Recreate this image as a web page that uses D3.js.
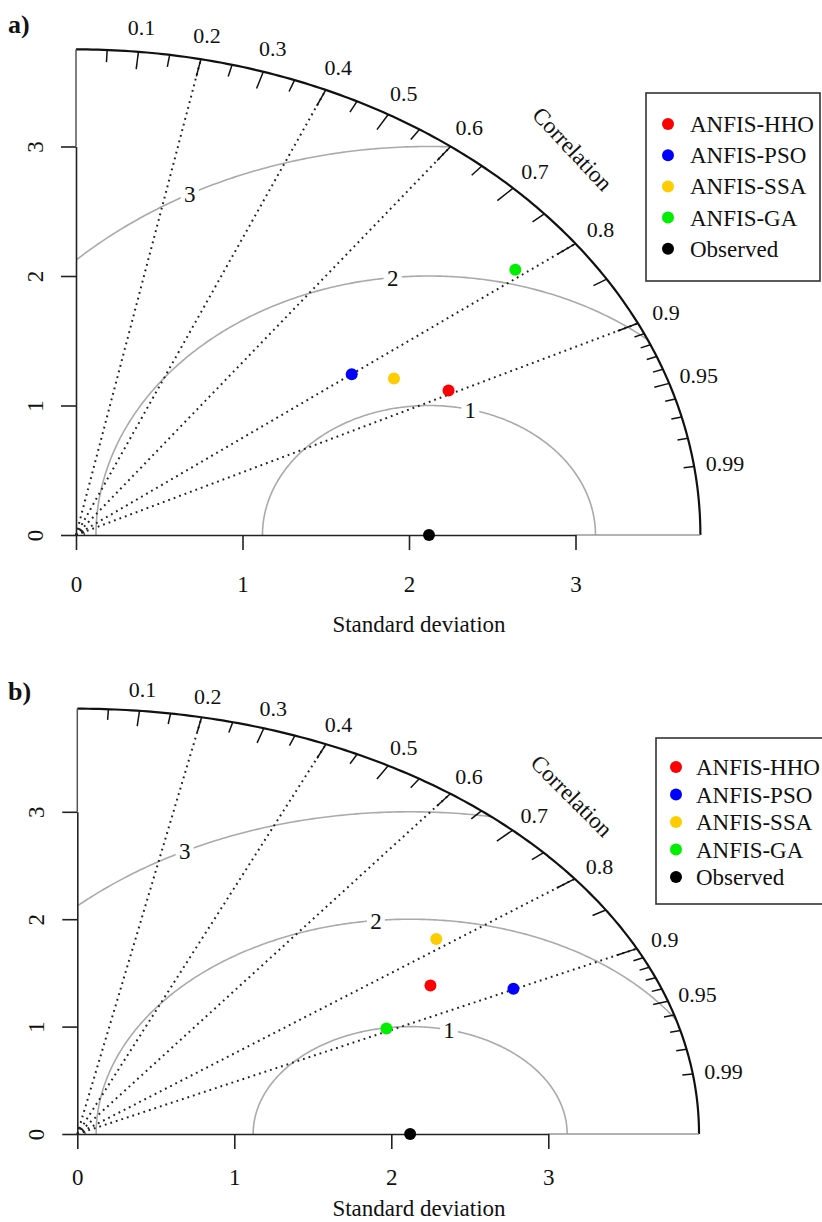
<!DOCTYPE html>
<html>
<head>
<meta charset="utf-8">
<script src="https://cdn.jsdelivr.net/npm/d3@7"></script>
<style>
body { margin: 0; background: #fff; }
svg text { font-family: "Liberation Serif", "Times New Roman", serif; fill: #111; }
</style>
</head>
<body>
<svg id="chart" width="822" height="1222"></svg>
<script>
// model names and colours
var models = ["ANFIS-HHO", "ANFIS-PSO", "ANFIS-SSA", "ANFIS-GA"];
var modelColors = ["#ff0000", "#0000ff", "#ffcc00", "#00ee00"];

// panel a) standard deviation and correlation of each model
var sdA  = [2.50, 2.07, 2.26, 3.34];
var corA = [0.895, 0.80, 0.845, 0.79];
var obsA = 2.12;
var maxSdA = 3.75;

// panel b)
var sdB  = [2.64, 3.09, 2.92, 2.20];
var corB = [0.852, 0.899, 0.783, 0.895];
var obsB = 2.12;
var maxSdB = 3.96;

var sdTicks = [0, 1, 2, 3];
var corLabels = [0.1, 0.2, 0.3, 0.4, 0.5, 0.6, 0.7, 0.8, 0.9, 0.95, 0.99];
var corLines = [0.2, 0.4, 0.6, 0.8, 0.9];
var rmsLevels = [1, 2, 3];
var rmsLabelAngles = [1.32, 1.68, 2.07];

var svg = d3.select("#chart");

function drawTaylor(opt) {
	var g = svg.append("g");
	var maxSd = opt.maxSd;

	var x = d3.scaleLinear().domain([0, 3]).range([opt.x0, opt.x3]);
	var y = d3.scaleLinear().domain([0, 3]).range([opt.y0, opt.y3]);
	var line = d3.line().x(function(d){ return x(d[0]); }).y(function(d){ return y(d[1]); });

	function polar(r, a) { return [r * Math.cos(a), r * Math.sin(a)]; }
	var quarter = d3.range(0, 181).map(function(i){ return polar(maxSd, i / 180 * Math.PI / 2); });

	// clip region = quarter circle
	g.append("clipPath").attr("id", opt.id + "clip")
		.append("path")
		.attr("d", line([[0, 0]].concat(quarter)) + "Z");

	// rms circles round the observed point
	var rms = g.append("g").attr("clip-path", "url(#" + opt.id + "clip)");
	rmsLevels.forEach(function(r){
		var pts = d3.range(0, 361).map(function(i){
			var a = i / 360 * Math.PI;
			return [opt.obs + r * Math.cos(a), r * Math.sin(a)];
		});
		rms.append("path").attr("d", line(pts))
			.attr("fill", "none").attr("stroke", "#aaa").attr("stroke-width", 1.6);
	});
	rmsLevels.forEach(function(r, i){
		var a = rmsLabelAngles[i];
		var px = x(opt.obs + r * Math.cos(a)), py = y(r * Math.sin(a));
		g.append("rect").attr("x", px - 9).attr("y", py - 11).attr("width", 18).attr("height", 22).attr("fill", "#fff");
		g.append("text").attr("x", px).attr("y", py).attr("dy", "0.35em")
			.attr("text-anchor", "middle").style("font-size", "23px").text(r);
	});

	// dotted correlation rays
	corLines.forEach(function(c){
		var p = polar(maxSd, Math.acos(c));
		g.append("line")
			.attr("x1", x(0)).attr("y1", y(0)).attr("x2", x(p[0])).attr("y2", y(p[1]))
			.attr("stroke", "#222").attr("stroke-width", 2).attr("stroke-dasharray", "1.8,4");
	});

	// small arc at origin
	var small = d3.range(0, 31).map(function(i){ return polar(0.05, i / 30 * Math.PI / 2); });
	g.append("path").attr("d", line(small)).attr("fill", "none").attr("stroke", "#222").attr("stroke-width", 1.2);

	// outer arc
	g.append("path").attr("d", line(quarter)).attr("fill", "none").attr("stroke", "#111").attr("stroke-width", 2.2);

	// correlation ticks
	var ticks = [];
	d3.range(1, 19).forEach(function(i){ ticks.push([i * 0.05, i % 2 == 0 ? 0.036 : 0.025]); });
	d3.range(1, 10).forEach(function(i){ ticks.push([0.9 + i * 0.01, i == 5 ? 0.025 : 0.017]); });
	ticks.forEach(function(t){
		var a = Math.acos(t[0]);
		var p1 = polar(maxSd, a), p2 = polar(maxSd * (1 - t[1]), a);
		g.append("line")
			.attr("x1", x(p1[0])).attr("y1", y(p1[1])).attr("x2", x(p2[0])).attr("y2", y(p2[1]))
			.attr("stroke", "#111").attr("stroke-width", 1.5);
	});
	corLabels.forEach(function(c){
		var p = polar(maxSd * 1.05, Math.acos(c));
		g.append("text").attr("x", x(p[0])).attr("y", y(p[1])).attr("dy", "0.35em")
			.attr("text-anchor", "middle").style("font-size", "22px").text(c);
	});
	var cp = polar(maxSd * 1.125, Math.PI / 4);
	g.append("text")
		.attr("transform", "translate(" + x(cp[0]) + "," + y(cp[1]) + ") rotate(" + opt.corRot + ")")
		.attr("dy", "0.35em").attr("text-anchor", "middle").style("font-size", "23px").text("Correlation");

	// axes
	g.append("line").attr("x1", x(3)).attr("y1", y(0)).attr("x2", x(maxSd)).attr("y2", y(0))
		.attr("stroke", "#999").attr("stroke-width", 1.5);
	g.append("line").attr("x1", x(0)).attr("y1", y(3)).attr("x2", x(0)).attr("y2", y(maxSd))
		.attr("stroke", "#555").attr("stroke-width", 1.5);

	var xAxis = g.append("g").attr("transform", "translate(0," + y(0) + ")")
		.call(d3.axisBottom(x).tickValues(sdTicks).tickFormat(d3.format("d")).tickSize(15).tickSizeOuter(0));
	xAxis.selectAll("text").attr("y", opt.xLabOff).attr("dy", 0).style("font-size", "23px")
		.style("font-family", "'Liberation Serif', serif").attr("fill", "#111");
	var yAxis = g.append("g").attr("transform", "translate(" + x(0) + ",0)")
		.call(d3.axisLeft(y).tickValues(sdTicks).tickFormat(d3.format("d")).tickSize(15).tickSizeOuter(0));
	yAxis.selectAll("text").attr("x", 0).attr("y", -33).attr("dy", 0)
		.attr("text-anchor", "middle").attr("transform", "rotate(-90)")
		.style("font-size", "23px").style("font-family", "'Liberation Serif', serif").attr("fill", "#111");
	g.selectAll(".domain, .tick line").attr("stroke", "#222").attr("stroke-width", 1.6);

	g.append("text").attr("x", 419).attr("y", opt.titleY).attr("text-anchor", "middle")
		.style("font-size", "23px").text("Standard deviation");

	// observed and model points
	g.append("circle").attr("cx", x(opt.obs)).attr("cy", y(0)).attr("r", 6).attr("fill", "#000");
	g.selectAll("circle.model").data(models).enter().append("circle")
		.attr("class", "model")
		.attr("cx", function(d, i){ return x(opt.sd[i] * opt.cor[i]); })
		.attr("cy", function(d, i){ return y(opt.sd[i] * Math.sin(Math.acos(opt.cor[i]))); })
		.attr("r", 6)
		.attr("fill", function(d, i){ return modelColors[i]; });

	// legend
	var lg = g.append("g").attr("transform", "translate(" + opt.legX + "," + opt.legY + ")");
	lg.append("rect").attr("x", 0).attr("y", 0).attr("width", opt.legW).attr("height", opt.legH)
		.attr("fill", "#fff").attr("stroke", "#333").attr("stroke-width", 1.6);
	var names = models.concat(["Observed"]);
	var cols = modelColors.concat(["#000"]);
	names.forEach(function(n, i){
		var cy = opt.legFirst + i * opt.legStep;
		lg.append("circle").attr("cx", opt.legDot).attr("cy", cy).attr("r", 6).attr("fill", cols[i]);
		lg.append("text").attr("x", opt.legText).attr("y", cy + 8).style("font-size", "23px").text(n);
	});

	svg.append("text").attr("x", 8).attr("y", opt.tagY).style("font-size", "26px")
		.style("font-weight", "bold").text(opt.tag);
}

drawTaylor({ id: "a", tag: "a)", tagY: 33, sd: sdA, cor: corA, obs: obsA, maxSd: maxSdA,
	x0: 76, x3: 575.5, y0: 535, y3: 146.5, corRot: 47, xLabOff: 57, titleY: 632,
	legX: 646, legY: 93, legW: 174, legH: 188, legFirst: 31, legStep: 31.2, legDot: 22, legText: 44 });

drawTaylor({ id: "b", tag: "b)", tagY: 700, sd: sdB, cor: corB, obs: obsB, maxSd: maxSdB,
	x0: 77.3, x3: 548.3, y0: 1134, y3: 811.8, corRot: 45, xLabOff: 51, titleY: 1216,
	legX: 656, legY: 738, legW: 180, legH: 166, legFirst: 29, legStep: 27.5, legDot: 20, legText: 40 });
</script>
</body>
</html>
